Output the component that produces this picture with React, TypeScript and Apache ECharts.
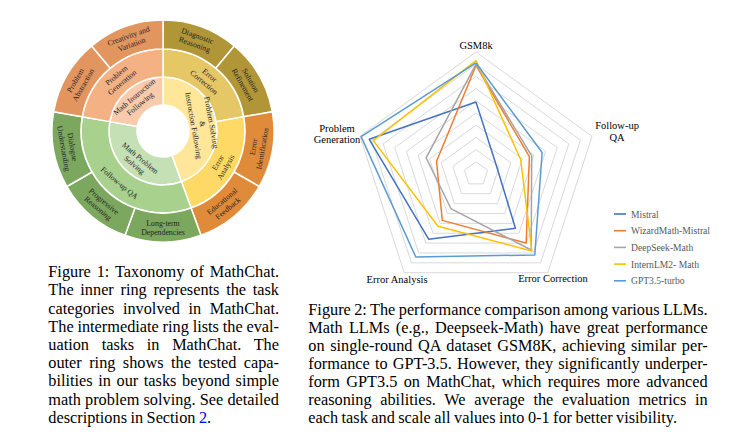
import React, { useEffect, useRef } from "react";
import * as echarts from "echarts";

// ---------- Sunburst (Figure 1) ----------
const innerCategories = ["Problem Solving & Instruction Following", "Math Problem Solving", "Math Instruction Following"];
const innerLabels = ["Problem Solving\n&\nInstruction Following", "Math Problem\nSolving", "Math Instruction\nFollowing"];
const innerColors = ["#FFE699", "#C5E0B4", "#F8CBAD"];

const middleTasks = ["Error Correction", "Error Analysis", "Follow-up QA", "Problem Generation"];
const middleLabels = ["Error\nCorrection", "Error\nAnalysis", "Follow-up QA", "Problem\nGeneration"];
const middleParent = [0, 0, 1, 2];
const middleColors = ["#E6C766", "#FFD966", "#A9D18E", "#F4B183"];

const outerCapabilities = [
  "Diagnostic Reasoning", "Solution Refinement", "Error Identification", "Educational Feedback",
  "Long-term Dependencies", "Progressive Reasoning", "Dialogue Understanding", "Problem Abstraction",
  "Creativity and Variation",
];
const outerLabels = [
  "Diagnostic\nReasoning", "Solution\nRefinement", "Error\nIdentification", "Educational\nFeedback",
  "Long-term\nDependencies", "Progressive\nReasoning", "Dialogue\nUnderstanding", "Problem\nAbstraction",
  "Creativity and\nVariation",
];
const outerParent = [0, 0, 1, 1, 2, 2, 2, 3, 3];
const outerWeights = [1, 1, 1, 1, 1, 1, 1, 1, 1];
const outerColors = ["#B09637", "#B09637", "#DF8B3A", "#DF8B3A", "#7BA75F", "#7BA75F", "#7BA75F", "#E3955F", "#E3955F"];

// ---------- Radar (Figure 2) ----------
const radarAxes = ["GSM8k", "Problem Generation", "Error Analysis", "Error Correction", "Follow-up QA"];
const models = ["Mistral", "WizardMath-Mistral", "DeepSeek-Math", "InternLM2- Math", "GPT3.5-turbo"];
const modelColors = ["#4472C4", "#ED7D31", "#A5A5A5", "#FFC000", "#5B9BD5"];
const mistral = [0.59, 0.92, 0.66, 0.55, 0.18];
const wizardMath = [0.89, 0.34, 0.47, 0.70, 0.46];
const deepSeekMath = [0.90, 0.43, 0.35, 0.77, 0.48];
const internLM2Math = [0.93, 0.885, 0.53, 0.78, 0.385];
const gpt35 = [0.91, 0.99, 0.84, 0.82, 0.57];
const modelValues = [mistral, wizardMath, deepSeekMath, internLM2Math, gpt35];

// ---------- Captions ----------
const fig1Lines = [
  "Figure 1: Taxonomy of MathChat.",
  "The inner ring represents the task",
  "categories involved in MathChat.",
  "The intermediate ring lists the eval-",
  "uation tasks in MathChat.  The",
  "outer ring shows the tested capa-",
  "bilities in our tasks beyond simple",
  "math problem solving. See detailed",
];
const fig1Last = ["descriptions in Section ", "2", "."];
const fig2Lines = [
  "Figure 2: The performance comparison among various LLMs.",
  "Math LLMs (e.g., Deepseek-Math) have great performance",
  "on single-round QA dataset GSM8K, achieving similar per-",
  "formance to GPT-3.5. However, they significantly underper-",
  "form GPT3.5 on MathChat, which requires more advanced",
  "reasoning abilities.  We average the evaluation metrics in",
  "each task and scale all values into 0-1 for better visibility.",
];

const SERIF = '"Liberation Serif", "Times New Roman", serif';

function buildSunburst() {
  return innerCategories.map((c, i) => ({
    name: c,
    itemStyle: { color: innerColors[i] },
    label: { formatter: innerLabels[i] },
    children: middleTasks
      .map((m, j) => ({ m, j }))
      .filter((x) => middleParent[x.j] === i)
      .map(({ m, j }) => ({
        name: m,
        itemStyle: { color: middleColors[j] },
        label: { formatter: middleLabels[j] },
        children: outerCapabilities
          .map((o, k) => ({ o, k }))
          .filter((x) => outerParent[x.k] === j)
          .map(({ o, k }) => ({
            name: o,
            value: outerWeights[k],
            itemStyle: { color: outerColors[k] },
            label: { formatter: outerLabels[k] },
          })),
      })),
  }));
}

export default function App() {
  const ref = useRef<HTMLDivElement>(null);
  useEffect(() => {
    if (!ref.current) return;
    const chart = echarts.init(ref.current, undefined, { renderer: "svg" });
    const axisFont = { fontFamily: SERIF, fontSize: 10.5, fill: "#000" };
    chart.setOption({
      animation: false,
      legend: {
        data: models,
        orient: "vertical",
        left: 609,
        top: 202,
        icon: "rect",
        itemWidth: 12,
        itemHeight: 1.6,
        itemGap: 2.7,
        textStyle: { fontFamily: SERIF, fontSize: 9.6, color: "#595959", lineHeight: 14 },
        selectedMode: false,
      },
      radar: {
        center: [476, 174],
        radius: 122,
        startAngle: 90,
        splitNumber: 10,
        shape: "polygon",
        indicator: radarAxes.map((n) => ({ name: n, min: 0, max: 1 })),
        axisName: { show: false },
        axisLine: { show: false },
        axisTick: { show: false },
        axisLabel: { show: false },
        splitArea: { show: false },
        splitLine: { lineStyle: { color: "#D9D9D9", width: 1 } },
      },
      graphic: [
        { type: "text", x: 476, y: 45, style: { ...axisFont, text: radarAxes[0], align: "center", verticalAlign: "middle" } },
        { type: "text", x: 337, y: 134, style: { ...axisFont, text: "Problem\nGeneration", align: "center", verticalAlign: "middle", lineHeight: 11.5 } },
        { type: "text", x: 397, y: 279, style: { ...axisFont, text: radarAxes[2], align: "center", verticalAlign: "middle" } },
        { type: "text", x: 553, y: 278.5, style: { ...axisFont, text: radarAxes[3], align: "center", verticalAlign: "middle" } },
        { type: "text", x: 617, y: 131.5, style: { ...axisFont, text: "Follow-up\nQA", align: "center", verticalAlign: "middle", lineHeight: 11.5 } },
      ],
      series: [
        {
          type: "sunburst",
          center: [163, 131],
          sort: null,
          nodeClick: false,
          startAngle: 90,
          clockwise: true,
          data: buildSunburst(),
          itemStyle: { borderColor: "#fff", borderWidth: 1.5 },
          label: {
            rotate: "tangential",
            fontFamily: SERIF,
            fontSize: 7.8,
            lineHeight: 9,
            color: "#262626",
            align: "center",
          },
          emphasis: { disabled: true },
          levels: [
            {},
            { r0: 26, r: 54 },
            { r0: 54, r: 82 },
            { r0: 82, r: 111 },
          ],
        },
        {
          type: "radar",
          symbol: "none",
          data: models.map((m, i) => ({
            name: m,
            value: modelValues[i],
            itemStyle: { color: modelColors[i] },
            lineStyle: { color: modelColors[i], width: 1.5 },
          })),
        },
      ],
    });
    return () => chart.dispose();
  }, []);

  const lineStyle = (justify: boolean, h: number): React.CSSProperties => ({
    textAlign: "justify",
    textAlignLast: justify ? "justify" : "left",
    wordSpacing: justify ? "-1.8px" : "-0.6px",
    height: h,
    overflow: "visible",
  });

  return (
    <div style={{ position: "absolute", left: 0, top: 0, width: 751, height: 441, background: "#fff", overflow: "hidden" }}>
      <div ref={ref} style={{ position: "absolute", left: 0, top: 0, width: 751, height: 441 }} />
      <div
        style={{
          position: "absolute", left: 48.3, top: 263.2, width: 230.7,
          fontFamily: SERIF, fontSize: 16.3, lineHeight: "18.2px", color: "#000",
        }}
      >
        {fig1Lines.map((l, i) => (
          <div key={i} style={lineStyle(true, 18.2)}>{l}</div>
        ))}
        <div style={lineStyle(false, 18.2)}>
          {fig1Last[0]}
          <span style={{ color: "#0000FF" }}>{fig1Last[1]}</span>
          {fig1Last[2]}
        </div>
      </div>
      <div
        style={{
          position: "absolute", left: 308.3, top: 300.9, width: 399.4,
          fontFamily: SERIF, fontSize: 16.3, lineHeight: "18.1px", color: "#000",
        }}
      >
        {fig2Lines.map((l, i) => (
          <div key={i} style={lineStyle(i < fig2Lines.length - 1, 18.1)}>{l}</div>
        ))}
      </div>
    </div>
  );
}
